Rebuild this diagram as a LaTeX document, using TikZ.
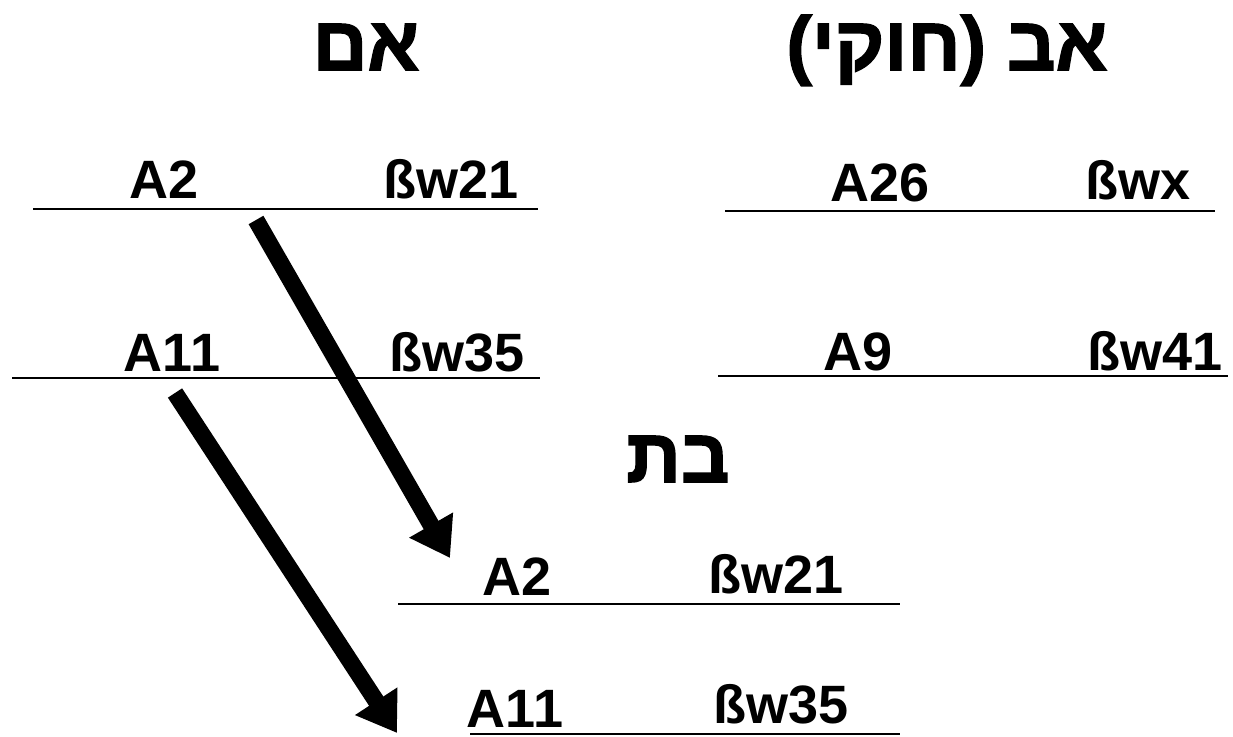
\documentclass[tikz,border=0pt]{standalone}
\usepackage{fontspec}
\setmainfont{Liberation Sans}
\newfontfamily\hebfont[Script=Hebrew,BoldFeatures={FakeBold=2}]{Liberation Sans}
\TeXXeTstate=1
\usetikzlibrary{arrows.meta}
\begin{document}
\begin{tikzpicture}[x=1pt,y=-1pt,
  allele/.style={anchor=base,inner sep=0pt,font=\fontsize{54}{60}\selectfont\bfseries},
  title/.style={anchor=base,inner sep=0pt,font=\hebfont\fontsize{76}{80}\selectfont\bfseries},
  chrom/.style={line width=2pt},
  inherit/.style={line width=17pt,-{Triangle[width=48pt,length=38pt]}}]
\useasboundingbox (0,0) rectangle (1233,736);
% titles
\node[title] (mother) at (366,70) {\beginR אם\endR};
\node[title] (father) at (947,70) {\beginR אב (חוקי)\endR};
\node[title] (daughter) at (678,482) {\beginR בת\endR};
% mother
\node[allele] (mA2) at (164,198) {A2};
\node[allele] (mB21) at (451,198) {ßw21};
\draw[chrom] (33,209) -- (538,209);
\node[allele] (mA11) at (172,371) {A11};
\node[allele] (mB35) at (457,371) {ßw35};
\draw[chrom] (12,378) -- (540,378);
% father
\node[allele] (fA26) at (880,201) {A26};
\node[allele] (fBx) at (1138,199) {ßwx};
\draw[chrom] (725,211) -- (1215,211);
\node[allele] (fA9) at (858,370) {A9};
\node[allele] (fB41) at (1155,370) {ßw41};
\draw[chrom] (718,376) -- (1228,376);
% daughter
\node[allele] (dA2) at (517,595) {A2};
\node[allele] (dB21) at (776,593) {ßw21};
\draw[chrom] (398,604) -- (900,604);
\node[allele] (dA11) at (515,727) {A11};
\node[allele] (dB35) at (781,723) {ßw35};
\draw[chrom] (470,734) -- (900,734);
% arrows
\coordinate (s1) at (256,220);
\coordinate (t1) at (450,558);
\coordinate (s2) at (175,393);
\coordinate (t2) at (397,733);
\draw[inherit] (s1) -- (t1);
\draw[inherit] (s2) -- (t2);
\end{tikzpicture}
\end{document}
